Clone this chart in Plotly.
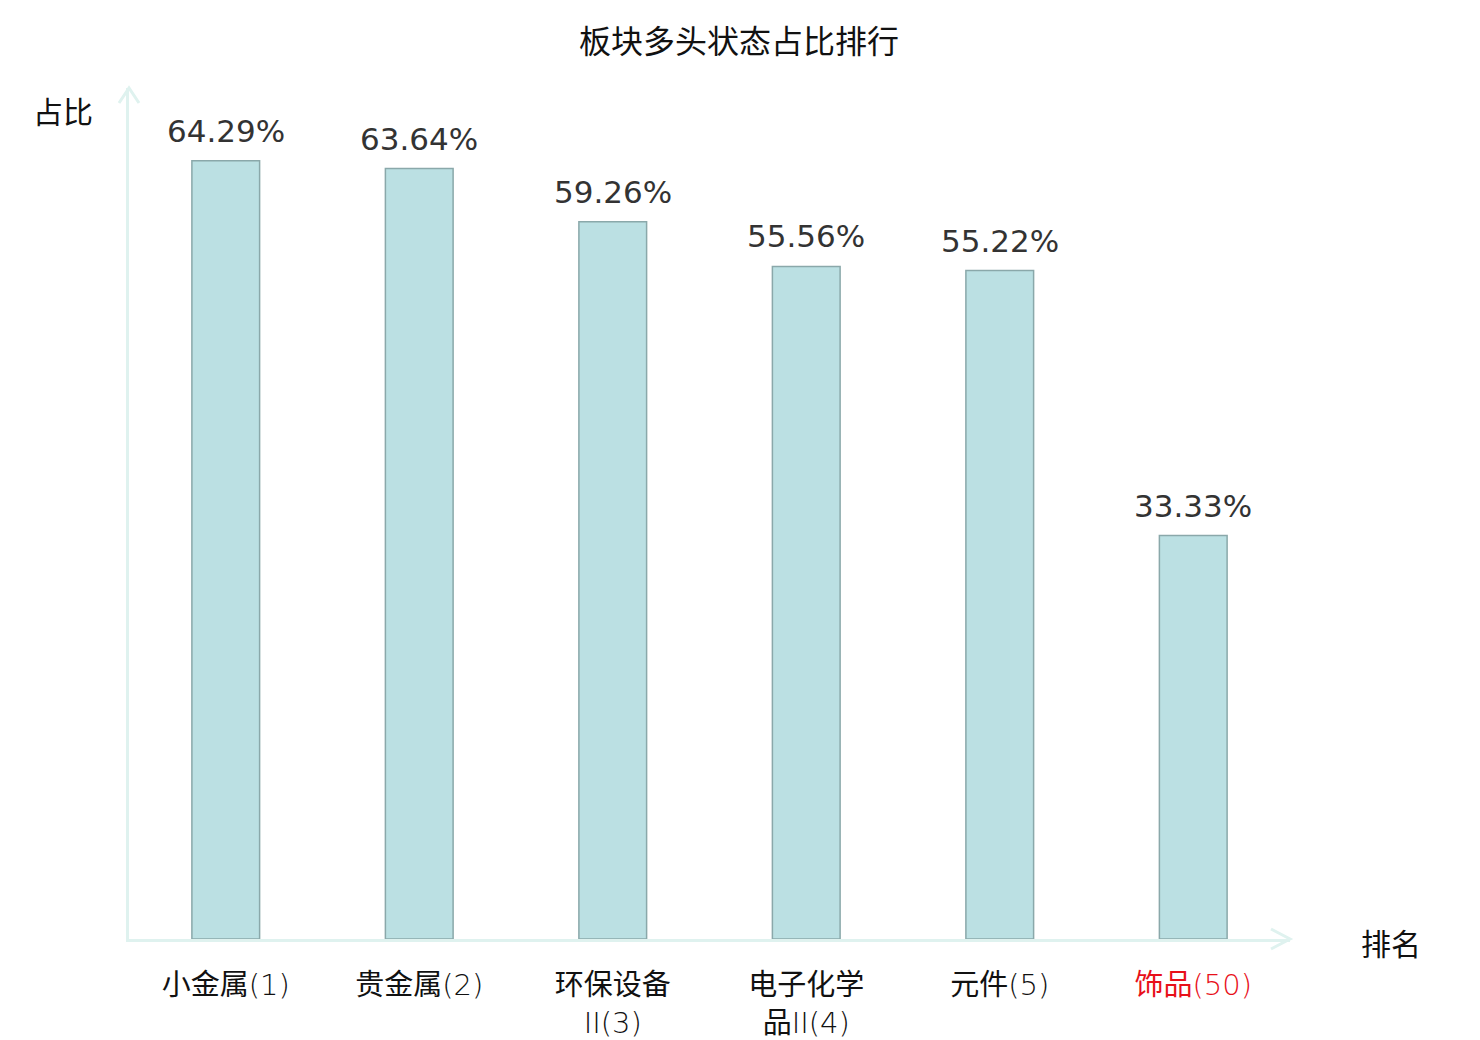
import plotly.graph_objects as go

# 板块多头状态占比排行
sectors = ["小金属(1)", "贵金属(2)", "环保设备<br>II(3)", "电子化学<br>品II(4)", "元件(5)", "饰品(50)"]
ratios = [64.29, 63.64, 59.26, 55.56, 55.22, 33.33]
highlight = [False, False, False, False, False, True]

# page body has an 8px margin, so the figure is 8px smaller on each side
W, H = 1472, 1032
ml, mr, mt, mb = 121, 190, 80, 101
pw, ph = W - ml - mr, H - mt - mb
axis_color = "#dff2ef"
label_font = "DejaVu Sans Light, DejaVu Sans, Noto Sans CJK SC"

ticktext = []
for s, hl in zip(sectors, highlight):
    if hl:
        ticktext.append("<span style='color:#e8101a'>" + s + "</span>")
    else:
        ticktext.append(s)

fig = go.Figure()
fig.add_trace(go.Bar(
    x=list(range(len(ratios))),
    y=ratios,
    marker=dict(color="#bbe0e3", line=dict(color="#8aa8aa", width=1.5)),
    width=0.35,
))

# arrow heads in paper coordinates (converted from pixels)
def px(dx):
    return dx / pw

def py(dy):
    return dy / ph

shapes = [
    dict(type="path", xref="paper", yref="paper",
         path=f"M {-px(10)},{1 - py(15)} L 0,1 L {px(10)},{1 - py(15)}",
         line=dict(color=axis_color, width=3)),
    dict(type="path", xref="paper", yref="paper",
         path=f"M {1 - px(19)},{py(10)} L 1,0 L {1 - px(19)},{-py(10)}",
         line=dict(color=axis_color, width=3)),
]

annotations = [
    dict(text="占比", xref="paper", yref="paper", x=-px(66), y=1 - py(22),
         showarrow=False, xanchor="center", yanchor="middle",
         font=dict(family="Noto Sans CJK SC", size=30, color="#111111")),
    dict(text="排名", xref="paper", yref="paper", x=1 + px(101), y=-py(3),
         showarrow=False, xanchor="center", yanchor="middle",
         font=dict(family="Noto Sans CJK SC", size=30, color="#111111")),
]
# value labels above the bars
for i, v in enumerate(ratios):
    annotations.append(dict(
        text=f"{v:.2f}%", x=i, y=v, xref="x", yref="y",
        showarrow=False, xanchor="center", yanchor="bottom", yshift=10,
        font=dict(family="DejaVu Sans", size=31, color="#333333"),
    ))

fig.update_layout(
    width=W, height=H,
    margin=dict(l=ml, r=mr, t=mt, b=mb, autoexpand=False),
    plot_bgcolor="white", paper_bgcolor="white",
    showlegend=False,
    title=dict(text="板块多头状态占比排行", x=(739 - 8) / W, xanchor="center",
               y=1 - 34 / H, yanchor="middle", yref="container",
               font=dict(family="Noto Sans CJK SC", size=32, color="#111111")),
    shapes=shapes,
    annotations=annotations,
    xaxis=dict(
        range=[-0.5, len(ratios) - 0.5],
        tickvals=list(range(len(ratios))),
        ticktext=ticktext,
        showline=True, linecolor=axis_color, linewidth=3,
        showgrid=False, zeroline=False, ticks="",
        automargin=False,
        ticklabelstandoff=18,
        tickfont=dict(family=label_font, size=29, color="#111111"),
    ),
    yaxis=dict(
        range=[0, 70.3],
        showline=True, linecolor=axis_color, linewidth=3,
        showgrid=False, zeroline=False, ticks="", showticklabels=False,
        automargin=False,
    ),
)

fig.write_html("out.html")
